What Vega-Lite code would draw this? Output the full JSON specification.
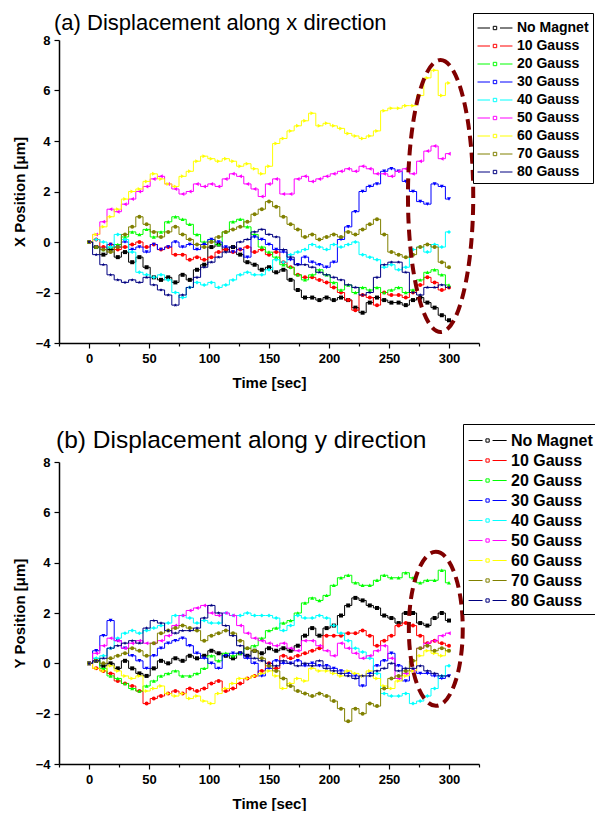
{
"$schema": "https://vega.github.io/schema/vega-lite/v6.json",
"background": "white",
"padding": {"left": 12, "top": 11, "right": 0, "bottom": 0},
"spacing": 33,
"resolve": {"scale": {"color": "independent"}, "legend": {"color": "independent"}},
"config": {
  "view": {"stroke": null},
  "font": "Liberation Sans",
  "axis": {"domainColor": "black", "domainWidth": 1.5, "tickColor": "black", "tickWidth": 1.2, "labelFont": "Liberation Sans", "labelFontSize": 13, "labelFontWeight": "bold", "labelColor": "black", "titleFont": "Liberation Sans", "titleFontSize": 15, "titleFontWeight": "bold", "titleColor": "black", "grid": false, "labelFlush": false, "labelOverlap": false, "labelPadding": 4}
},
"datasets": {
"x": [
{"t":0,"g":0,"v":0},{"t":6,"g":0,"v":-0.2},{"t":12,"g":0,"v":-0.5},{"t":18,"g":0,"v":-0.3},{"t":24,"g":0,"v":-0.6},{"t":30,"g":0,"v":-0.4},{"t":36,"g":0,"v":-0.8},{"t":42,"g":0,"v":-0.6},{"t":48,"g":0,"v":-1.0},{"t":54,"g":0,"v":-1.4},{"t":60,"g":0,"v":-1.5},{"t":66,"g":0,"v":-1.4},{"t":72,"g":0,"v":-1.6},{"t":78,"g":0,"v":-1.3},{"t":84,"g":0,"v":-1.5},{"t":90,"g":0,"v":-1.1},{"t":96,"g":0,"v":-0.9},{"t":102,"g":0,"v":-0.2},{"t":108,"g":0,"v":-0.1},{"t":114,"g":0,"v":-0.3},{"t":120,"g":0,"v":-0.2},{"t":126,"g":0,"v":-0.5},{"t":132,"g":0,"v":-0.8},{"t":138,"g":0,"v":-0.9},{"t":144,"g":0,"v":-1.1},{"t":150,"g":0,"v":-1.0},{"t":156,"g":0,"v":-1.2},{"t":162,"g":0,"v":-1.1},{"t":168,"g":0,"v":-1.5},{"t":174,"g":0,"v":-1.9},{"t":180,"g":0,"v":-2.2},{"t":186,"g":0,"v":-2.2},{"t":192,"g":0,"v":-2.3},{"t":198,"g":0,"v":-2.2},{"t":204,"g":0,"v":-2.3},{"t":210,"g":0,"v":-2.2},{"t":216,"g":0,"v":-2.3},{"t":222,"g":0,"v":-2.6},{"t":228,"g":0,"v":-2.8},{"t":234,"g":0,"v":-2.4},{"t":240,"g":0,"v":-2.2},{"t":246,"g":0,"v":-2.3},{"t":252,"g":0,"v":-2.4},{"t":258,"g":0,"v":-2.4},{"t":264,"g":0,"v":-2.5},{"t":270,"g":0,"v":-2.3},{"t":276,"g":0,"v":-2.2},{"t":282,"g":0,"v":-2.4},{"t":288,"g":0,"v":-2.6},{"t":294,"g":0,"v":-2.9},{"t":300,"g":0,"v":-3.1},
{"t":0,"g":10,"v":0},{"t":6,"g":10,"v":0.1},{"t":12,"g":10,"v":-0.2},{"t":18,"g":10,"v":-0.1},{"t":24,"g":10,"v":-0.3},{"t":30,"g":10,"v":-0.2},{"t":36,"g":10,"v":-0.1},{"t":42,"g":10,"v":0.0},{"t":48,"g":10,"v":-0.2},{"t":54,"g":10,"v":-0.1},{"t":60,"g":10,"v":-0.3},{"t":66,"g":10,"v":-0.2},{"t":72,"g":10,"v":-0.5},{"t":78,"g":10,"v":-0.5},{"t":84,"g":10,"v":-0.7},{"t":90,"g":10,"v":-0.6},{"t":96,"g":10,"v":-0.7},{"t":102,"g":10,"v":-0.6},{"t":108,"g":10,"v":-0.4},{"t":114,"g":10,"v":-0.3},{"t":120,"g":10,"v":-0.4},{"t":126,"g":10,"v":-0.3},{"t":132,"g":10,"v":-0.2},{"t":138,"g":10,"v":-0.4},{"t":144,"g":10,"v":-0.3},{"t":150,"g":10,"v":-0.5},{"t":156,"g":10,"v":-0.4},{"t":162,"g":10,"v":-0.8},{"t":168,"g":10,"v":-1.0},{"t":174,"g":10,"v":-1.3},{"t":180,"g":10,"v":-1.4},{"t":186,"g":10,"v":-1.4},{"t":192,"g":10,"v":-1.5},{"t":198,"g":10,"v":-1.6},{"t":204,"g":10,"v":-1.8},{"t":210,"g":10,"v":-2.0},{"t":216,"g":10,"v":-2.3},{"t":222,"g":10,"v":-2.7},{"t":228,"g":10,"v":-2.1},{"t":234,"g":10,"v":-2.2},{"t":240,"g":10,"v":-2.5},{"t":246,"g":10,"v":-2.0},{"t":252,"g":10,"v":-2.1},{"t":258,"g":10,"v":-2.1},{"t":264,"g":10,"v":-2.2},{"t":270,"g":10,"v":-2.0},{"t":276,"g":10,"v":-1.7},{"t":282,"g":10,"v":-1.4},{"t":288,"g":10,"v":-1.6},{"t":294,"g":10,"v":-1.9},{"t":300,"g":10,"v":-1.8},
{"t":0,"g":20,"v":0},{"t":6,"g":20,"v":-0.2},{"t":12,"g":20,"v":-0.3},{"t":18,"g":20,"v":-0.2},{"t":24,"g":20,"v":-0.1},{"t":30,"g":20,"v":0.2},{"t":36,"g":20,"v":0.4},{"t":42,"g":20,"v":0.3},{"t":48,"g":20,"v":0.5},{"t":54,"g":20,"v":0.2},{"t":60,"g":20,"v":0.4},{"t":66,"g":20,"v":0.8},{"t":72,"g":20,"v":1.0},{"t":78,"g":20,"v":0.9},{"t":84,"g":20,"v":0.7},{"t":90,"g":20,"v":0.3},{"t":96,"g":20,"v":0.0},{"t":102,"g":20,"v":0.1},{"t":108,"g":20,"v":-0.1},{"t":114,"g":20,"v":0.4},{"t":120,"g":20,"v":0.8},{"t":126,"g":20,"v":0.9},{"t":132,"g":20,"v":0.6},{"t":138,"g":20,"v":0.3},{"t":144,"g":20,"v":-0.2},{"t":150,"g":20,"v":-0.4},{"t":156,"g":20,"v":-0.6},{"t":162,"g":20,"v":-0.9},{"t":168,"g":20,"v":-1.0},{"t":174,"g":20,"v":-1.3},{"t":180,"g":20,"v":-1.5},{"t":186,"g":20,"v":-1.3},{"t":192,"g":20,"v":-1.1},{"t":198,"g":20,"v":-1.3},{"t":204,"g":20,"v":-1.6},{"t":210,"g":20,"v":-1.9},{"t":216,"g":20,"v":-1.7},{"t":222,"g":20,"v":-2.0},{"t":228,"g":20,"v":-1.8},{"t":234,"g":20,"v":-1.9},{"t":240,"g":20,"v":-1.8},{"t":246,"g":20,"v":-2.0},{"t":252,"g":20,"v":-1.9},{"t":258,"g":20,"v":-1.8},{"t":264,"g":20,"v":-2.0},{"t":270,"g":20,"v":-1.9},{"t":276,"g":20,"v":-1.5},{"t":282,"g":20,"v":-1.2},{"t":288,"g":20,"v":-1.1},{"t":294,"g":20,"v":-1.3},{"t":300,"g":20,"v":-1.7},
{"t":0,"g":30,"v":0},{"t":6,"g":30,"v":-0.2},{"t":12,"g":30,"v":-0.3},{"t":18,"g":30,"v":-0.1},{"t":24,"g":30,"v":-0.2},{"t":30,"g":30,"v":0.0},{"t":36,"g":30,"v":-0.3},{"t":42,"g":30,"v":-0.2},{"t":48,"g":30,"v":-0.4},{"t":54,"g":30,"v":-0.1},{"t":60,"g":30,"v":-0.3},{"t":66,"g":30,"v":-0.2},{"t":72,"g":30,"v":0.0},{"t":78,"g":30,"v":-0.2},{"t":84,"g":30,"v":-0.1},{"t":90,"g":30,"v":-0.3},{"t":96,"g":30,"v":-0.1},{"t":102,"g":30,"v":0.1},{"t":108,"g":30,"v":0.0},{"t":114,"g":30,"v":-0.2},{"t":120,"g":30,"v":-0.4},{"t":126,"g":30,"v":-0.3},{"t":132,"g":30,"v":-0.6},{"t":138,"g":30,"v":0.2},{"t":144,"g":30,"v":0.1},{"t":150,"g":30,"v":-0.1},{"t":156,"g":30,"v":-0.3},{"t":162,"g":30,"v":-0.4},{"t":168,"g":30,"v":-0.7},{"t":174,"g":30,"v":-0.9},{"t":180,"g":30,"v":-0.6},{"t":186,"g":30,"v":-0.8},{"t":192,"g":30,"v":-0.9},{"t":198,"g":30,"v":-1.0},{"t":204,"g":30,"v":-0.8},{"t":210,"g":30,"v":0.1},{"t":216,"g":30,"v":0.6},{"t":222,"g":30,"v":1.2},{"t":228,"g":30,"v":2.0},{"t":234,"g":30,"v":2.2},{"t":240,"g":30,"v":2.3},{"t":246,"g":30,"v":2.8},{"t":252,"g":30,"v":2.9},{"t":258,"g":30,"v":2.8},{"t":264,"g":30,"v":2.4},{"t":270,"g":30,"v":2.0},{"t":276,"g":30,"v":1.6},{"t":282,"g":30,"v":1.5},{"t":288,"g":30,"v":2.3},{"t":294,"g":30,"v":2.2},{"t":300,"g":30,"v":1.7},
{"t":0,"g":40,"v":0},{"t":6,"g":40,"v":0.1},{"t":12,"g":40,"v":0.0},{"t":18,"g":40,"v":-0.2},{"t":24,"g":40,"v":0.3},{"t":30,"g":40,"v":0.1},{"t":36,"g":40,"v":-0.4},{"t":42,"g":40,"v":-1.2},{"t":48,"g":40,"v":-1.3},{"t":54,"g":40,"v":-1.4},{"t":60,"g":40,"v":-1.3},{"t":66,"g":40,"v":-1.5},{"t":72,"g":40,"v":-2.0},{"t":78,"g":40,"v":-2.2},{"t":84,"g":40,"v":-1.8},{"t":90,"g":40,"v":-1.6},{"t":96,"g":40,"v":-1.7},{"t":102,"g":40,"v":-1.6},{"t":108,"g":40,"v":-1.8},{"t":114,"g":40,"v":-1.7},{"t":120,"g":40,"v":-1.5},{"t":126,"g":40,"v":-1.3},{"t":132,"g":40,"v":-1.2},{"t":138,"g":40,"v":-1.3},{"t":144,"g":40,"v":-1.3},{"t":150,"g":40,"v":-1.1},{"t":156,"g":40,"v":-0.7},{"t":162,"g":40,"v":-0.8},{"t":168,"g":40,"v":-0.5},{"t":174,"g":40,"v":-0.4},{"t":180,"g":40,"v":-0.3},{"t":186,"g":40,"v":-0.1},{"t":192,"g":40,"v":-0.2},{"t":198,"g":40,"v":-0.3},{"t":204,"g":40,"v":-0.1},{"t":210,"g":40,"v":-0.2},{"t":216,"g":40,"v":-0.1},{"t":222,"g":40,"v":0.0},{"t":228,"g":40,"v":-0.5},{"t":234,"g":40,"v":-0.6},{"t":240,"g":40,"v":-0.7},{"t":246,"g":40,"v":-1.0},{"t":252,"g":40,"v":-0.9},{"t":258,"g":40,"v":-1.1},{"t":264,"g":40,"v":-1.0},{"t":270,"g":40,"v":-0.3},{"t":276,"g":40,"v":-0.2},{"t":282,"g":40,"v":-0.4},{"t":288,"g":40,"v":-0.1},{"t":294,"g":40,"v":-0.2},{"t":300,"g":40,"v":0.4},
{"t":0,"g":50,"v":0},{"t":6,"g":50,"v":0.3},{"t":12,"g":50,"v":0.8},{"t":18,"g":50,"v":1.3},{"t":24,"g":50,"v":1.2},{"t":30,"g":50,"v":1.5},{"t":36,"g":50,"v":1.7},{"t":42,"g":50,"v":2.0},{"t":48,"g":50,"v":2.2},{"t":54,"g":50,"v":2.5},{"t":60,"g":50,"v":2.6},{"t":66,"g":50,"v":2.3},{"t":72,"g":50,"v":2.1},{"t":78,"g":50,"v":1.9},{"t":84,"g":50,"v":2.0},{"t":90,"g":50,"v":2.3},{"t":96,"g":50,"v":2.2},{"t":102,"g":50,"v":2.3},{"t":108,"g":50,"v":2.2},{"t":114,"g":50,"v":2.5},{"t":120,"g":50,"v":2.7},{"t":126,"g":50,"v":2.6},{"t":132,"g":50,"v":2.3},{"t":138,"g":50,"v":2.1},{"t":144,"g":50,"v":1.8},{"t":150,"g":50,"v":2.3},{"t":156,"g":50,"v":2.5},{"t":162,"g":50,"v":1.9},{"t":168,"g":50,"v":1.9},{"t":174,"g":50,"v":2.5},{"t":180,"g":50,"v":2.6},{"t":186,"g":50,"v":2.4},{"t":192,"g":50,"v":2.5},{"t":198,"g":50,"v":2.6},{"t":204,"g":50,"v":2.7},{"t":210,"g":50,"v":2.8},{"t":216,"g":50,"v":2.9},{"t":222,"g":50,"v":2.8},{"t":228,"g":50,"v":3.0},{"t":234,"g":50,"v":2.9},{"t":240,"g":50,"v":2.7},{"t":246,"g":50,"v":2.7},{"t":252,"g":50,"v":2.6},{"t":258,"g":50,"v":2.8},{"t":264,"g":50,"v":2.9},{"t":270,"g":50,"v":2.7},{"t":276,"g":50,"v":3.2},{"t":282,"g":50,"v":3.6},{"t":288,"g":50,"v":3.8},{"t":294,"g":50,"v":3.3},{"t":300,"g":50,"v":3.5},
{"t":0,"g":60,"v":0},{"t":6,"g":60,"v":0.3},{"t":12,"g":60,"v":0.6},{"t":18,"g":60,"v":1.0},{"t":24,"g":60,"v":1.3},{"t":30,"g":60,"v":1.7},{"t":36,"g":60,"v":2.0},{"t":42,"g":60,"v":2.1},{"t":48,"g":60,"v":2.4},{"t":54,"g":60,"v":2.7},{"t":60,"g":60,"v":2.5},{"t":66,"g":60,"v":2.3},{"t":72,"g":60,"v":2.2},{"t":78,"g":60,"v":2.6},{"t":84,"g":60,"v":2.8},{"t":90,"g":60,"v":3.2},{"t":96,"g":60,"v":3.4},{"t":102,"g":60,"v":3.3},{"t":108,"g":60,"v":3.2},{"t":114,"g":60,"v":3.3},{"t":120,"g":60,"v":3.2},{"t":126,"g":60,"v":3.0},{"t":132,"g":60,"v":3.1},{"t":138,"g":60,"v":2.9},{"t":144,"g":60,"v":2.7},{"t":150,"g":60,"v":3.0},{"t":156,"g":60,"v":3.9},{"t":162,"g":60,"v":4.1},{"t":168,"g":60,"v":4.4},{"t":174,"g":60,"v":4.6},{"t":180,"g":60,"v":4.8},{"t":186,"g":60,"v":5.1},{"t":192,"g":60,"v":4.6},{"t":198,"g":60,"v":4.7},{"t":204,"g":60,"v":4.6},{"t":210,"g":60,"v":4.5},{"t":216,"g":60,"v":4.3},{"t":222,"g":60,"v":4.2},{"t":228,"g":60,"v":4.1},{"t":234,"g":60,"v":4.2},{"t":240,"g":60,"v":4.4},{"t":246,"g":60,"v":5.2},{"t":252,"g":60,"v":5.3},{"t":258,"g":60,"v":5.3},{"t":264,"g":60,"v":5.4},{"t":270,"g":60,"v":5.4},{"t":276,"g":60,"v":5.8},{"t":282,"g":60,"v":6.5},{"t":288,"g":60,"v":6.8},{"t":294,"g":60,"v":5.8},{"t":300,"g":60,"v":6.3},
{"t":0,"g":70,"v":0},{"t":6,"g":70,"v":-0.2},{"t":12,"g":70,"v":-0.3},{"t":18,"g":70,"v":-0.4},{"t":24,"g":70,"v":-0.2},{"t":30,"g":70,"v":0.3},{"t":36,"g":70,"v":0.6},{"t":42,"g":70,"v":1.0},{"t":48,"g":70,"v":0.7},{"t":54,"g":70,"v":0.4},{"t":60,"g":70,"v":0.2},{"t":66,"g":70,"v":0.4},{"t":72,"g":70,"v":0.6},{"t":78,"g":70,"v":0.3},{"t":84,"g":70,"v":0.1},{"t":90,"g":70,"v":-0.1},{"t":96,"g":70,"v":-0.2},{"t":102,"g":70,"v":0.0},{"t":108,"g":70,"v":0.2},{"t":114,"g":70,"v":0.4},{"t":120,"g":70,"v":0.5},{"t":126,"g":70,"v":0.6},{"t":132,"g":70,"v":0.8},{"t":138,"g":70,"v":1.1},{"t":144,"g":70,"v":1.3},{"t":150,"g":70,"v":1.6},{"t":156,"g":70,"v":1.4},{"t":162,"g":70,"v":1.0},{"t":168,"g":70,"v":0.7},{"t":174,"g":70,"v":0.5},{"t":180,"g":70,"v":0.2},{"t":186,"g":70,"v":0.3},{"t":192,"g":70,"v":0.1},{"t":198,"g":70,"v":0.2},{"t":204,"g":70,"v":0.3},{"t":210,"g":70,"v":0.2},{"t":216,"g":70,"v":0.4},{"t":222,"g":70,"v":0.3},{"t":228,"g":70,"v":0.5},{"t":234,"g":70,"v":0.7},{"t":240,"g":70,"v":0.9},{"t":246,"g":70,"v":0.3},{"t":252,"g":70,"v":-0.4},{"t":258,"g":70,"v":-0.5},{"t":264,"g":70,"v":-0.6},{"t":270,"g":70,"v":-0.5},{"t":276,"g":70,"v":-0.2},{"t":282,"g":70,"v":-0.1},{"t":288,"g":70,"v":-0.2},{"t":294,"g":70,"v":-0.8},{"t":300,"g":70,"v":-1.0},
{"t":0,"g":80,"v":0},{"t":6,"g":80,"v":-0.5},{"t":12,"g":80,"v":-0.9},{"t":18,"g":80,"v":-1.3},{"t":24,"g":80,"v":-1.5},{"t":30,"g":80,"v":-1.6},{"t":36,"g":80,"v":-1.5},{"t":42,"g":80,"v":-1.6},{"t":48,"g":80,"v":-1.4},{"t":54,"g":80,"v":-1.7},{"t":60,"g":80,"v":-1.9},{"t":66,"g":80,"v":-2.1},{"t":72,"g":80,"v":-2.5},{"t":78,"g":80,"v":-2.1},{"t":84,"g":80,"v":-1.8},{"t":90,"g":80,"v":-1.4},{"t":96,"g":80,"v":-1.0},{"t":102,"g":80,"v":-0.8},{"t":108,"g":80,"v":-0.6},{"t":114,"g":80,"v":-0.4},{"t":120,"g":80,"v":-0.2},{"t":126,"g":80,"v":0.0},{"t":132,"g":80,"v":0.1},{"t":138,"g":80,"v":0.4},{"t":144,"g":80,"v":0.5},{"t":150,"g":80,"v":0.3},{"t":156,"g":80,"v":0.2},{"t":162,"g":80,"v":-0.3},{"t":168,"g":80,"v":-0.6},{"t":174,"g":80,"v":-0.9},{"t":180,"g":80,"v":-0.9},{"t":186,"g":80,"v":-1.0},{"t":192,"g":80,"v":-1.2},{"t":198,"g":80,"v":-1.3},{"t":204,"g":80,"v":-1.4},{"t":210,"g":80,"v":-1.5},{"t":216,"g":80,"v":-1.7},{"t":222,"g":80,"v":-1.8},{"t":228,"g":80,"v":-2.1},{"t":234,"g":80,"v":-2.0},{"t":240,"g":80,"v":-1.4},{"t":246,"g":80,"v":-0.9},{"t":252,"g":80,"v":-0.8},{"t":258,"g":80,"v":-0.8},{"t":264,"g":80,"v":-1.2},{"t":270,"g":80,"v":-2.0},{"t":276,"g":80,"v":-2.1},{"t":282,"g":80,"v":-1.8},{"t":288,"g":80,"v":-1.8},{"t":294,"g":80,"v":-1.7},{"t":300,"g":80,"v":-1.8}
],
"y": [
{"t":0,"g":0,"v":0},{"t":6,"g":0,"v":0.1},{"t":12,"g":0,"v":-0.1},{"t":18,"g":0,"v":0.0},{"t":24,"g":0,"v":-0.2},{"t":30,"g":0,"v":0.1},{"t":36,"g":0,"v":-0.2},{"t":42,"g":0,"v":-0.4},{"t":48,"g":0,"v":-0.5},{"t":54,"g":0,"v":-0.2},{"t":60,"g":0,"v":0.1},{"t":66,"g":0,"v":0.0},{"t":72,"g":0,"v":0.2},{"t":78,"g":0,"v":0.1},{"t":84,"g":0,"v":0.3},{"t":90,"g":0,"v":0.2},{"t":96,"g":0,"v":0.3},{"t":102,"g":0,"v":0.5},{"t":108,"g":0,"v":0.4},{"t":114,"g":0,"v":0.3},{"t":120,"g":0,"v":0.2},{"t":126,"g":0,"v":0.4},{"t":132,"g":0,"v":0.3},{"t":138,"g":0,"v":0.5},{"t":144,"g":0,"v":0.4},{"t":150,"g":0,"v":0.6},{"t":156,"g":0,"v":0.5},{"t":162,"g":0,"v":0.6},{"t":168,"g":0,"v":0.5},{"t":174,"g":0,"v":0.7},{"t":180,"g":0,"v":1.1},{"t":186,"g":0,"v":1.4},{"t":192,"g":0,"v":1.1},{"t":198,"g":0,"v":1.4},{"t":204,"g":0,"v":1.5},{"t":210,"g":0,"v":1.9},{"t":216,"g":0,"v":2.3},{"t":222,"g":0,"v":2.6},{"t":228,"g":0,"v":2.5},{"t":234,"g":0,"v":2.3},{"t":240,"g":0,"v":2.2},{"t":246,"g":0,"v":1.9},{"t":252,"g":0,"v":1.8},{"t":258,"g":0,"v":1.6},{"t":264,"g":0,"v":2.0},{"t":270,"g":0,"v":2.0},{"t":276,"g":0,"v":1.6},{"t":282,"g":0,"v":1.5},{"t":288,"g":0,"v":1.8},{"t":294,"g":0,"v":2.0},{"t":300,"g":0,"v":1.7},
{"t":0,"g":10,"v":0},{"t":6,"g":10,"v":-0.2},{"t":12,"g":10,"v":-0.3},{"t":18,"g":10,"v":-0.4},{"t":24,"g":10,"v":-0.7},{"t":30,"g":10,"v":-0.8},{"t":36,"g":10,"v":-0.9},{"t":42,"g":10,"v":-1.1},{"t":48,"g":10,"v":-1.6},{"t":54,"g":10,"v":-1.4},{"t":60,"g":10,"v":-1.3},{"t":66,"g":10,"v":-1.2},{"t":72,"g":10,"v":-1.1},{"t":78,"g":10,"v":-1.2},{"t":84,"g":10,"v":-1.0},{"t":90,"g":10,"v":-1.1},{"t":96,"g":10,"v":-1.0},{"t":102,"g":10,"v":-0.8},{"t":108,"g":10,"v":-0.7},{"t":114,"g":10,"v":-1.1},{"t":120,"g":10,"v":-1.0},{"t":126,"g":10,"v":-0.8},{"t":132,"g":10,"v":-0.6},{"t":138,"g":10,"v":-0.5},{"t":144,"g":10,"v":-0.3},{"t":150,"g":10,"v":0.0},{"t":156,"g":10,"v":-0.2},{"t":162,"g":10,"v":0.3},{"t":168,"g":10,"v":0.2},{"t":174,"g":10,"v":0.3},{"t":180,"g":10,"v":0.4},{"t":186,"g":10,"v":0.5},{"t":192,"g":10,"v":0.6},{"t":198,"g":10,"v":1.1},{"t":204,"g":10,"v":1.1},{"t":210,"g":10,"v":1.1},{"t":216,"g":10,"v":1.2},{"t":222,"g":10,"v":1.2},{"t":228,"g":10,"v":1.3},{"t":234,"g":10,"v":1.1},{"t":240,"g":10,"v":0.7},{"t":246,"g":10,"v":0.9},{"t":252,"g":10,"v":1.1},{"t":258,"g":10,"v":1.5},{"t":264,"g":10,"v":1.6},{"t":270,"g":10,"v":1.5},{"t":276,"g":10,"v":1.1},{"t":282,"g":10,"v":0.8},{"t":288,"g":10,"v":0.9},{"t":294,"g":10,"v":0.8},{"t":300,"g":10,"v":0.7},
{"t":0,"g":20,"v":0},{"t":6,"g":20,"v":0.2},{"t":12,"g":20,"v":-0.2},{"t":18,"g":20,"v":-0.5},{"t":24,"g":20,"v":-0.6},{"t":30,"g":20,"v":-0.8},{"t":36,"g":20,"v":-1.0},{"t":42,"g":20,"v":-1.1},{"t":48,"g":20,"v":-0.9},{"t":54,"g":20,"v":-0.7},{"t":60,"g":20,"v":-0.5},{"t":66,"g":20,"v":-0.4},{"t":72,"g":20,"v":-0.3},{"t":78,"g":20,"v":-0.5},{"t":84,"g":20,"v":-0.5},{"t":90,"g":20,"v":-0.4},{"t":96,"g":20,"v":-0.2},{"t":102,"g":20,"v":0.3},{"t":108,"g":20,"v":0.1},{"t":114,"g":20,"v":0.4},{"t":120,"g":20,"v":0.3},{"t":126,"g":20,"v":0.4},{"t":132,"g":20,"v":0.6},{"t":138,"g":20,"v":0.7},{"t":144,"g":20,"v":1.0},{"t":150,"g":20,"v":1.3},{"t":156,"g":20,"v":1.4},{"t":162,"g":20,"v":1.6},{"t":168,"g":20,"v":1.7},{"t":174,"g":20,"v":2.0},{"t":180,"g":20,"v":2.4},{"t":186,"g":20,"v":2.6},{"t":192,"g":20,"v":2.5},{"t":198,"g":20,"v":2.7},{"t":204,"g":20,"v":3.1},{"t":210,"g":20,"v":3.4},{"t":216,"g":20,"v":3.5},{"t":222,"g":20,"v":3.2},{"t":228,"g":20,"v":3.1},{"t":234,"g":20,"v":3.1},{"t":240,"g":20,"v":3.3},{"t":246,"g":20,"v":3.5},{"t":252,"g":20,"v":3.4},{"t":258,"g":20,"v":3.4},{"t":264,"g":20,"v":3.6},{"t":270,"g":20,"v":3.4},{"t":276,"g":20,"v":3.2},{"t":282,"g":20,"v":3.3},{"t":288,"g":20,"v":3.3},{"t":294,"g":20,"v":3.7},{"t":300,"g":20,"v":3.2},
{"t":0,"g":30,"v":0},{"t":6,"g":30,"v":0.5},{"t":12,"g":30,"v":1.1},{"t":18,"g":30,"v":1.7},{"t":24,"g":30,"v":0.9},{"t":30,"g":30,"v":0.6},{"t":36,"g":30,"v":0.3},{"t":42,"g":30,"v":0.1},{"t":48,"g":30,"v":-0.2},{"t":54,"g":30,"v":0.3},{"t":60,"g":30,"v":0.6},{"t":66,"g":30,"v":0.8},{"t":72,"g":30,"v":0.9},{"t":78,"g":30,"v":1.0},{"t":84,"g":30,"v":0.7},{"t":90,"g":30,"v":0.4},{"t":96,"g":30,"v":0.2},{"t":102,"g":30,"v":0.0},{"t":108,"g":30,"v":-0.2},{"t":114,"g":30,"v":0.3},{"t":120,"g":30,"v":0.4},{"t":126,"g":30,"v":0.4},{"t":132,"g":30,"v":0.2},{"t":138,"g":30,"v":0.0},{"t":144,"g":30,"v":-0.5},{"t":150,"g":30,"v":-0.2},{"t":156,"g":30,"v":0.1},{"t":162,"g":30,"v":0.0},{"t":168,"g":30,"v":0.0},{"t":174,"g":30,"v":0.1},{"t":180,"g":30,"v":-0.1},{"t":186,"g":30,"v":0.0},{"t":192,"g":30,"v":-0.1},{"t":198,"g":30,"v":-0.1},{"t":204,"g":30,"v":-0.2},{"t":210,"g":30,"v":-0.3},{"t":216,"g":30,"v":-0.4},{"t":222,"g":30,"v":-0.5},{"t":228,"g":30,"v":-0.9},{"t":234,"g":30,"v":-0.4},{"t":240,"g":30,"v":-0.1},{"t":246,"g":30,"v":0.1},{"t":252,"g":30,"v":0.4},{"t":258,"g":30,"v":-0.1},{"t":264,"g":30,"v":-0.7},{"t":270,"g":30,"v":-0.3},{"t":276,"g":30,"v":-0.4},{"t":282,"g":30,"v":-0.4},{"t":288,"g":30,"v":-0.5},{"t":294,"g":30,"v":-0.6},{"t":300,"g":30,"v":-0.5},
{"t":0,"g":40,"v":0},{"t":6,"g":40,"v":0.2},{"t":12,"g":40,"v":0.3},{"t":18,"g":40,"v":0.6},{"t":24,"g":40,"v":1.0},{"t":30,"g":40,"v":1.2},{"t":36,"g":40,"v":1.3},{"t":42,"g":40,"v":1.2},{"t":48,"g":40,"v":1.3},{"t":54,"g":40,"v":1.4},{"t":60,"g":40,"v":1.5},{"t":66,"g":40,"v":1.6},{"t":72,"g":40,"v":1.9},{"t":78,"g":40,"v":1.9},{"t":84,"g":40,"v":1.8},{"t":90,"g":40,"v":1.6},{"t":96,"g":40,"v":1.7},{"t":102,"g":40,"v":1.6},{"t":108,"g":40,"v":1.6},{"t":114,"g":40,"v":2.0},{"t":120,"g":40,"v":1.9},{"t":126,"g":40,"v":1.9},{"t":132,"g":40,"v":2.0},{"t":138,"g":40,"v":1.9},{"t":144,"g":40,"v":1.9},{"t":150,"g":40,"v":1.9},{"t":156,"g":40,"v":1.8},{"t":162,"g":40,"v":1.3},{"t":168,"g":40,"v":1.5},{"t":174,"g":40,"v":1.9},{"t":180,"g":40,"v":1.8},{"t":186,"g":40,"v":1.8},{"t":192,"g":40,"v":1.9},{"t":198,"g":40,"v":1.8},{"t":204,"g":40,"v":1.5},{"t":210,"g":40,"v":1.2},{"t":216,"g":40,"v":0.9},{"t":222,"g":40,"v":0.6},{"t":228,"g":40,"v":0.45},{"t":234,"g":40,"v":0.2},{"t":240,"g":40,"v":-0.4},{"t":246,"g":40,"v":-1.2},{"t":252,"g":40,"v":-1.3},{"t":258,"g":40,"v":-1.3},{"t":264,"g":40,"v":-1.2},{"t":270,"g":40,"v":-1.6},{"t":276,"g":40,"v":-1.5},{"t":282,"g":40,"v":-1.3},{"t":288,"g":40,"v":-1.0},{"t":294,"g":40,"v":-0.5},{"t":300,"g":40,"v":-0.1},
{"t":0,"g":50,"v":0},{"t":6,"g":50,"v":0.4},{"t":12,"g":50,"v":0.7},{"t":18,"g":50,"v":1.0},{"t":24,"g":50,"v":0.9},{"t":30,"g":50,"v":0.6},{"t":36,"g":50,"v":0.8},{"t":42,"g":50,"v":0.9},{"t":48,"g":50,"v":0.8},{"t":54,"g":50,"v":0.8},{"t":60,"g":50,"v":0.9},{"t":66,"g":50,"v":1.1},{"t":72,"g":50,"v":1.5},{"t":78,"g":50,"v":1.9},{"t":84,"g":50,"v":2.1},{"t":90,"g":50,"v":2.2},{"t":96,"g":50,"v":2.3},{"t":102,"g":50,"v":2.0},{"t":108,"g":50,"v":1.9},{"t":114,"g":50,"v":2.0},{"t":120,"g":50,"v":1.9},{"t":126,"g":50,"v":1.5},{"t":132,"g":50,"v":1.2},{"t":138,"g":50,"v":1.0},{"t":144,"g":50,"v":0.9},{"t":150,"g":50,"v":0.8},{"t":156,"g":50,"v":0.7},{"t":162,"g":50,"v":0.8},{"t":168,"g":50,"v":0.6},{"t":174,"g":50,"v":0.5},{"t":180,"g":50,"v":0.9},{"t":186,"g":50,"v":0.9},{"t":192,"g":50,"v":0.7},{"t":198,"g":50,"v":0.5},{"t":204,"g":50,"v":0.3},{"t":210,"g":50,"v":0.8},{"t":216,"g":50,"v":0.6},{"t":222,"g":50,"v":0.4},{"t":228,"g":50,"v":0.2},{"t":234,"g":50,"v":0.3},{"t":240,"g":50,"v":0.5},{"t":246,"g":50,"v":0.7},{"t":252,"g":50,"v":0.2},{"t":258,"g":50,"v":-0.6},{"t":264,"g":50,"v":-0.4},{"t":270,"g":50,"v":-0.3},{"t":276,"g":50,"v":0.6},{"t":282,"g":50,"v":0.8},{"t":288,"g":50,"v":0.9},{"t":294,"g":50,"v":1.1},{"t":300,"g":50,"v":1.2},
{"t":0,"g":60,"v":0},{"t":6,"g":60,"v":-0.2},{"t":12,"g":60,"v":-0.3},{"t":18,"g":60,"v":-0.1},{"t":24,"g":60,"v":-0.3},{"t":30,"g":60,"v":-0.5},{"t":36,"g":60,"v":-0.6},{"t":42,"g":60,"v":-0.5},{"t":48,"g":60,"v":-1.1},{"t":54,"g":60,"v":-1.0},{"t":60,"g":60,"v":-0.9},{"t":66,"g":60,"v":-1.2},{"t":72,"g":60,"v":-1.3},{"t":78,"g":60,"v":-1.2},{"t":84,"g":60,"v":-1.4},{"t":90,"g":60,"v":-1.3},{"t":96,"g":60,"v":-1.5},{"t":102,"g":60,"v":-1.6},{"t":108,"g":60,"v":-1.2},{"t":114,"g":60,"v":-1.0},{"t":120,"g":60,"v":-0.8},{"t":126,"g":60,"v":-0.6},{"t":132,"g":60,"v":-0.6},{"t":138,"g":60,"v":-0.5},{"t":144,"g":60,"v":-0.4},{"t":150,"g":60,"v":-0.3},{"t":156,"g":60,"v":-0.5},{"t":162,"g":60,"v":-1.0},{"t":168,"g":60,"v":-0.8},{"t":174,"g":60,"v":-0.6},{"t":180,"g":60,"v":-0.7},{"t":186,"g":60,"v":-0.2},{"t":192,"g":60,"v":-0.3},{"t":198,"g":60,"v":-0.3},{"t":204,"g":60,"v":-0.4},{"t":210,"g":60,"v":-0.5},{"t":216,"g":60,"v":-0.3},{"t":222,"g":60,"v":-0.4},{"t":228,"g":60,"v":-0.5},{"t":234,"g":60,"v":-0.3},{"t":240,"g":60,"v":-0.6},{"t":246,"g":60,"v":-0.9},{"t":252,"g":60,"v":-1.0},{"t":258,"g":60,"v":-0.7},{"t":264,"g":60,"v":-0.5},{"t":270,"g":60,"v":-0.3},{"t":276,"g":60,"v":0.3},{"t":282,"g":60,"v":0.5},{"t":288,"g":60,"v":0.4},{"t":294,"g":60,"v":0.3},{"t":300,"g":60,"v":0.5},
{"t":0,"g":70,"v":0},{"t":6,"g":70,"v":0.1},{"t":12,"g":70,"v":0.0},{"t":18,"g":70,"v":0.2},{"t":24,"g":70,"v":0.3},{"t":30,"g":70,"v":0.4},{"t":36,"g":70,"v":0.6},{"t":42,"g":70,"v":0.5},{"t":48,"g":70,"v":0.3},{"t":54,"g":70,"v":0.8},{"t":60,"g":70,"v":1.2},{"t":66,"g":70,"v":1.3},{"t":72,"g":70,"v":1.4},{"t":78,"g":70,"v":1.5},{"t":84,"g":70,"v":1.4},{"t":90,"g":70,"v":1.3},{"t":96,"g":70,"v":0.9},{"t":102,"g":70,"v":1.1},{"t":108,"g":70,"v":1.2},{"t":114,"g":70,"v":1.3},{"t":120,"g":70,"v":1.2},{"t":126,"g":70,"v":0.9},{"t":132,"g":70,"v":0.6},{"t":138,"g":70,"v":0.5},{"t":144,"g":70,"v":0.2},{"t":150,"g":70,"v":-0.1},{"t":156,"g":70,"v":-0.3},{"t":162,"g":70,"v":-0.6},{"t":168,"g":70,"v":-0.9},{"t":174,"g":70,"v":-1.1},{"t":180,"g":70,"v":-1.2},{"t":186,"g":70,"v":-1.3},{"t":192,"g":70,"v":-1.2},{"t":198,"g":70,"v":-1.3},{"t":204,"g":70,"v":-1.5},{"t":210,"g":70,"v":-1.8},{"t":216,"g":70,"v":-2.3},{"t":222,"g":70,"v":-1.8},{"t":228,"g":70,"v":-2.0},{"t":234,"g":70,"v":-1.6},{"t":240,"g":70,"v":-1.7},{"t":246,"g":70,"v":-1.0},{"t":252,"g":70,"v":-0.6},{"t":258,"g":70,"v":-0.5},{"t":264,"g":70,"v":-0.3},{"t":270,"g":70,"v":0.1},{"t":276,"g":70,"v":0.6},{"t":282,"g":70,"v":0.7},{"t":288,"g":70,"v":0.5},{"t":294,"g":70,"v":0.6},{"t":300,"g":70,"v":0.5},
{"t":0,"g":80,"v":0},{"t":6,"g":80,"v":0.1},{"t":12,"g":80,"v":0.2},{"t":18,"g":80,"v":0.6},{"t":24,"g":80,"v":0.7},{"t":30,"g":80,"v":0.8},{"t":36,"g":80,"v":0.9},{"t":42,"g":80,"v":0.8},{"t":48,"g":80,"v":1.4},{"t":54,"g":80,"v":1.7},{"t":60,"g":80,"v":1.6},{"t":66,"g":80,"v":1.3},{"t":72,"g":80,"v":1.2},{"t":78,"g":80,"v":1.3},{"t":84,"g":80,"v":1.3},{"t":90,"g":80,"v":1.4},{"t":96,"g":80,"v":1.8},{"t":102,"g":80,"v":2.3},{"t":108,"g":80,"v":2.0},{"t":114,"g":80,"v":1.5},{"t":120,"g":80,"v":1.1},{"t":126,"g":80,"v":0.7},{"t":132,"g":80,"v":0.3},{"t":138,"g":80,"v":0.2},{"t":144,"g":80,"v":0.1},{"t":150,"g":80,"v":0.0},{"t":156,"g":80,"v":-0.1},{"t":162,"g":80,"v":0.1},{"t":168,"g":80,"v":0.0},{"t":174,"g":80,"v":-0.1},{"t":180,"g":80,"v":0.0},{"t":186,"g":80,"v":-0.1},{"t":192,"g":80,"v":0.1},{"t":198,"g":80,"v":-0.2},{"t":204,"g":80,"v":-0.3},{"t":210,"g":80,"v":-0.4},{"t":216,"g":80,"v":-0.5},{"t":222,"g":80,"v":-0.6},{"t":228,"g":80,"v":-0.5},{"t":234,"g":80,"v":-0.5},{"t":240,"g":80,"v":-0.3},{"t":246,"g":80,"v":-0.2},{"t":252,"g":80,"v":0.0},{"t":258,"g":80,"v":-0.3},{"t":264,"g":80,"v":-0.2},{"t":270,"g":80,"v":-0.2},{"t":276,"g":80,"v":-0.1},{"t":282,"g":80,"v":-0.3},{"t":288,"g":80,"v":-0.4},{"t":294,"g":80,"v":-0.5},{"t":300,"g":80,"v":-0.5}
]
},
"vconcat": [
{
  "width": 420, "height": 303,
  "title": {"text": "(a) Displacement along x direction", "anchor": "start", "frame": "group", "font": "Liberation Sans", "fontSize": 22, "fontWeight": "normal", "color": "black", "dx": -5, "offset": -22},
  "resolve": {"scale": {"color": "independent", "shape": "independent"}, "legend": {"color": "independent"}, "axis": {"x": "independent"}},
  "layer": [
    {"data": {"name": "x"},
     "mark": {"type": "line", "strokeWidth": 1, "interpolate": "step"},
     "encoding": {
       "x": {"field": "t", "type": "quantitative", "scale": {"domain": [-25, 325], "nice": false, "zero": false},
             "axis": {"title": "Time [sec]", "orient": "bottom", "values": [0,50,100,150,200,250,300], "tickSize": 5, "titlePadding": 10, "labelBound": false}},
       "y": {"field": "v", "type": "quantitative", "scale": {"domain": [-4, 8], "nice": false, "zero": false},
             "axis": {"title": "X Position [μm]", "values": [-4,-3,-2,-1,0,1,2,3,4,5,6,7,8], "labelExpr": "datum.value % 2 === 0 ? datum.label : ''", "tickSize": {"condition": {"test": "datum.value % 2 === 0", "value": 5}, "value": 3}, "titlePadding": 8}},
       "color": {"field": "g", "type": "ordinal",
                 "scale": {"domain": [0,10,20,30,40,50,60,70,80], "range": ["#000000","#FF0000","#00FF00","#0000FF","#00FFFF","#FF00FF","#FFFF00","#808000","#000080"]},
                 "legend": {"orient": "none", "legendX": 414, "legendY": -27, "title": null, "labelExpr": "datum.value == 0 ? 'No Magnet' : datum.value + ' Gauss'", "symbolType": "M-1,0H0.19M1.14,0H2.33M0.5,-0.16H0.83V0.16H0.5Z", "symbolSize": 441, "symbolStrokeWidth": 1, "labelFont": "Liberation Sans", "labelFontSize": 14, "labelFontWeight": "bold", "labelColor": "black", "strokeColor": "black", "fillColor": "white", "padding": 4, "rowPadding": 0, "labelOffset": 18}}
     }},
    {"data": {"name": "x"},
     "mark": {"type": "point", "filled": true, "size": 16, "opacity": 1},
     "encoding": {
       "x": {"field": "t", "type": "quantitative", "axis": null},
       "y": {"field": "v", "type": "quantitative"},
       "color": {"field": "g", "type": "ordinal", "legend": null,
                 "scale": {"domain": [0,10,20,30,40,50,60,70,80], "range": ["#000000","#FF0000","#00FF00","#0000FF","#00FFFF","#FF00FF","#FFFF00","#808000","#000080"]}},
       "shape": {"field": "g", "type": "ordinal", "legend": null,
                 "scale": {"domain": [0,10,20,30,40,50,60,70,80], "range": ["square","circle","triangle-up","triangle-down","diamond","triangle-left","triangle-right","circle","M0,-1L0.24,-0.33L0.95,-0.31L0.38,0.12L0.59,0.81L0,0.4L-0.59,0.81L-0.38,0.12L-0.95,-0.31L-0.24,-0.33Z"]}}
     }},
    {"data": {"values": [{"t": 293, "v": 1.82}]},
     "mark": {"type": "point", "shape": "M0,-1C0.1325,-1 0.24,-0.5523 0.24,0C0.24,0.5523 0.1325,1 0,1C-0.1325,1 -0.24,0.5523 -0.24,0C-0.24,-0.5523 -0.1325,-1 0,-1Z", "size": 73984, "filled": false, "stroke": "#800000", "strokeWidth": 4, "strokeDash": [11, 6], "opacity": 1},
     "encoding": {"x": {"field": "t", "type": "quantitative", "axis": {"orient": "bottom", "values": [-25,25,75,125,175,225,275,325], "labels": false, "domain": false, "title": null, "tickSize": 3}}, "y": {"field": "v", "type": "quantitative"}}}
  ]
},
{
  "width": 420, "height": 302,
  "title": {"text": "(b) Displacement along y direction", "anchor": "start", "frame": "group", "font": "Liberation Sans", "fontSize": 24.5, "fontWeight": "normal", "color": "black", "dx": -3, "offset": -29.5},
  "resolve": {"scale": {"color": "independent", "shape": "independent"}, "legend": {"color": "independent"}, "axis": {"x": "independent"}},
  "layer": [
    {"data": {"name": "y"},
     "mark": {"type": "line", "strokeWidth": 1, "interpolate": "step"},
     "encoding": {
       "x": {"field": "t", "type": "quantitative", "scale": {"domain": [-25, 325], "nice": false, "zero": false},
             "axis": {"title": "Time [sec]", "orient": "bottom", "values": [0,50,100,150,200,250,300], "tickSize": 5, "titlePadding": 10, "labelBound": false}},
       "y": {"field": "v", "type": "quantitative", "scale": {"domain": [-4, 8], "nice": false, "zero": false},
             "axis": {"title": "Y Position [μm]", "values": [-4,-3,-2,-1,0,1,2,3,4,5,6,7,8], "labelExpr": "datum.value % 2 === 0 ? datum.label : ''", "tickSize": {"condition": {"test": "datum.value % 2 === 0", "value": 5}, "value": 3}, "titlePadding": 8}},
       "color": {"field": "g", "type": "ordinal",
                 "scale": {"domain": [0,10,20,30,40,50,60,70,80], "range": ["#000000","#FF0000","#00FF00","#0000FF","#00FFFF","#FF00FF","#FFFF00","#808000","#000080"]},
                 "legend": {"orient": "none", "legendX": 404, "legendY": -38, "title": null, "labelExpr": "datum.value == 0 ? 'No Magnet' : datum.value + ' Gauss'", "symbolType": "M-1,0H0.28M1.2,0H2.49M0.59,-0.15H0.89V0.15H0.59Z", "symbolSize": 475, "symbolStrokeWidth": 1, "labelFont": "Liberation Sans", "labelFontSize": 16, "labelFontWeight": "bold", "labelColor": "black", "strokeColor": "black", "fillColor": "white", "padding": 5, "rowPadding": 0, "labelOffset": 20}}
     }},
    {"data": {"name": "y"},
     "mark": {"type": "point", "filled": true, "size": 16, "opacity": 1},
     "encoding": {
       "x": {"field": "t", "type": "quantitative", "axis": null},
       "y": {"field": "v", "type": "quantitative"},
       "color": {"field": "g", "type": "ordinal", "legend": null,
                 "scale": {"domain": [0,10,20,30,40,50,60,70,80], "range": ["#000000","#FF0000","#00FF00","#0000FF","#00FFFF","#FF00FF","#FFFF00","#808000","#000080"]}},
       "shape": {"field": "g", "type": "ordinal", "legend": null,
                 "scale": {"domain": [0,10,20,30,40,50,60,70,80], "range": ["square","circle","triangle-up","triangle-down","diamond","triangle-left","triangle-right","circle","M0,-1L0.24,-0.33L0.95,-0.31L0.38,0.12L0.59,0.81L0,0.4L-0.59,0.81L-0.38,0.12L-0.95,-0.31L-0.24,-0.33Z"]}}
     }},
    {"data": {"values": [{"t": 289, "v": 1.37}]},
     "mark": {"type": "point", "shape": "M0,-1C0.1933,-1 0.35,-0.5523 0.35,0C0.35,0.5523 0.1933,1 0,1C-0.1933,1 -0.35,0.5523 -0.35,0C-0.35,-0.5523 -0.1933,-1 0,-1Z", "size": 23716, "filled": false, "stroke": "#800000", "strokeWidth": 4, "strokeDash": [11, 6], "opacity": 1},
     "encoding": {"x": {"field": "t", "type": "quantitative", "axis": {"orient": "bottom", "values": [-25,25,75,125,175,225,275,325], "labels": false, "domain": false, "title": null, "tickSize": 3}}, "y": {"field": "v", "type": "quantitative"}}}
  ]
}
]
}
